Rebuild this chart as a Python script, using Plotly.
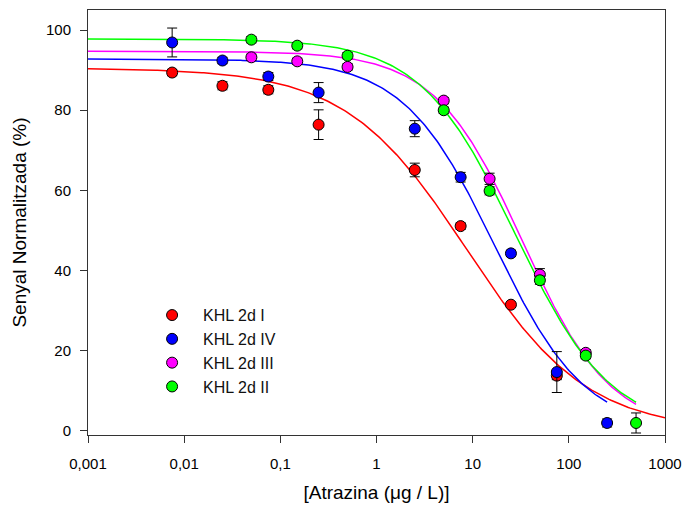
import numpy as np
import plotly.graph_objects as go

# ---- data ----
series_names = ["KHL 2d I", "KHL 2d IV", "KHL 2d III", "KHL 2d II"]
series_colors = ["#FF0000", "#0000FF", "#FF00FF", "#00FF00"]

red_x = [0.0075, 0.025, 0.075, 0.25, 2.5, 7.5, 25, 75]
red_y = [89.4, 86.1, 85.1, 76.4, 65.1, 51.1, 31.5, 13.8]
red_err = [0.8, 1.0, 1.0, 3.7, 1.7, 0.8, 0.6, 1.0]

blue_x = [0.0075, 0.025, 0.075, 0.25, 2.5, 7.5, 25, 75, 250]
blue_y = [96.9, 92.4, 88.4, 84.4, 75.4, 63.3, 44.3, 14.7, 2.0]
blue_err = [3.6, 0.8, 1.0, 2.5, 2.0, 1.2, 0.8, 5.1, 1.0]

magenta_x = [0.05, 0.15, 0.5, 5, 15, 50, 150]
magenta_y = [93.2, 92.2, 90.8, 82.4, 62.9, 39.0, 19.5]
magenta_err = [0.8, 0.8, 0.8, 0.8, 1.4, 1.5, 0.8]

green_x = [0.05, 0.15, 0.5, 5, 15, 50, 150, 500]
green_y = [97.6, 96.1, 93.6, 80.0, 59.9, 37.6, 18.8, 2.0]
green_err = [0.8, 0.8, 0.8, 0.8, 1.0, 1.0, 0.8, 2.5]

# four-parameter logistic fits (top, slope, IC50, bottom) and x extent of each fitted curve
red_fit = [90.5, 0.69, 8.7, 0.0]
blue_fit = [92.8, 0.918, 16.8, 0.0]
magenta_fit = [94.7, 0.95, 33.0, 0.0]
green_fit = [97.8, 0.88, 28.0, 0.0]
curve_x_max = [1000, 250, 500, 500]
curve_x_min = 0.001

x_tick_vals = [0.001, 0.01, 0.1, 1, 10, 100, 1000]
x_tick_text = ["0,001", "0,01", "0,1", "1", "10", "100", "1000"]
y_tick_vals = [0, 20, 40, 60, 80, 100]

xs = [red_x, blue_x, magenta_x, green_x]
ys = [red_y, blue_y, magenta_y, green_y]
errs = [red_err, blue_err, magenta_err, green_err]
fits = [red_fit, blue_fit, magenta_fit, green_fit]


def logistic(x, p):
    top, slope, c, bottom = p
    return bottom + (top - bottom) / (1.0 + (x / c) ** slope)


fig = go.Figure()
FONT = "Liberation Sans, Arial, sans-serif"

for name, col, p, xmax in zip(series_names, series_colors, fits, curve_x_max):
    cx = np.logspace(np.log10(curve_x_min), np.log10(xmax), 300)
    fig.add_trace(go.Scatter(x=cx, y=logistic(cx, p), mode="lines",
                             line=dict(color=col, width=1.5),
                             showlegend=False, hoverinfo="skip"))

for name, col, x, y, e in zip(series_names, series_colors, xs, ys, errs):
    fig.add_trace(go.Scatter(
        x=x, y=y, mode="markers", name=name,
        marker=dict(color=col, size=11, line=dict(color="black", width=1)),
        error_y=dict(type="data", array=e, visible=True, color="black",
                     thickness=1, width=5),
    ))

fig.update_layout(
    width=685, height=513,
    margin=dict(l=88, r=20, t=10, b=78, autoexpand=False),
    paper_bgcolor="white", plot_bgcolor="white",
    font=dict(family=FONT, size=15, color="black"),
    showlegend=True,
    legend=dict(x=0.092, y=0.322, xanchor="left", yanchor="top",
                bgcolor="rgba(0,0,0,0)", borderwidth=0,
                font=dict(family=FONT, size=16, color="#111"),
                itemwidth=52, tracegroupgap=0),
    xaxis=dict(type="log", range=[-3, 3], automargin=False,
               tickmode="array", tickvals=x_tick_vals, ticktext=x_tick_text,
               ticks="outside", ticklen=7, tickcolor="#333", tickwidth=1,
               ticklabelstandoff=8,
               showline=True, linecolor="#333", linewidth=1, mirror=True,
               showgrid=False, zeroline=False,
               title=dict(text="[Atrazina (\u03bcg / L)]",
                          font=dict(family=FONT, size=19), standoff=14)),
    yaxis=dict(range=[-1, 105], tickvals=y_tick_vals, automargin=False,
               ticks="outside", ticklen=7, tickcolor="#333", tickwidth=1,
               ticklabelstandoff=6,
               showline=True, linecolor="#333", linewidth=1, mirror=True,
               showgrid=False, zeroline=False,
               title=dict(text="Senyal Normalitzada (%)",
                          font=dict(family=FONT, size=19), standoff=14)),
)

fig.write_html("out.html",
               config={"displayModeBar": False},
               post_script="document.body.style.margin='0';"
                           "document.body.style.overflow='hidden';")
